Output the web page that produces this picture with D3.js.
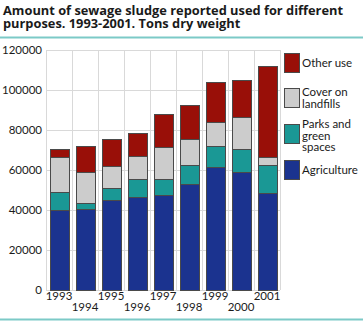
<!DOCTYPE html>
<html>
<head>
<meta charset="utf-8">
<script src="https://cdn.jsdelivr.net/npm/d3@7"></script>
<style>
  body { margin: 0; background: #fff; }
  text { font-family: Lato, "Open Sans", sans-serif; fill: #1a1a1a; }
</style>
</head>
<body>
<div id="chart-container"></div>
<script>
const years = ['1993', '1994', '1995', '1996', '1997', '1998', '1999', '2000', '2001']
const agriculture = [40000, 40300, 44800, 46500, 47500, 52800, 61500, 59200, 48300]
const parks = [8800, 3200, 6000, 8800, 7800, 9700, 10300, 11300, 14000]
const landfills = [17500, 15300, 11200, 11500, 16400, 13000, 12000, 16200, 4000]
const otherUse = [4200, 13000, 13700, 11700, 16100, 16800, 20000, 18100, 45700]
const yTicks = [0, 20000, 40000, 60000, 80000, 100000, 120000]

const seriesNames = ['Agriculture', 'Parks and green spaces', 'Cover on landfills', 'Other use']
const legendLines = {
  'Other use': ['Other use'],
  'Cover on landfills': ['Cover on', 'landfills'],
  'Parks and green spaces': ['Parks and', 'green', 'spaces'],
  'Agriculture': ['Agriculture']
}
const colors = ['#1b338f', '#1a9895', '#cccccc', '#990f08']

const w = 363, h = 321
const svg = d3.select('#chart-container')
  .append('svg')
  .attr('width', w)
  .attr('height', h)

// title
const title = svg.append('text')
  .style('font-family', '"Open Sans", sans-serif')
  .style('font-size', '13px')
  .style('font-weight', 'bold')
const t1 = title.append('tspan').attr('x', 3).attr('y', 14.5).text('Amount of sewage sludge reported used for different')
title.append('tspan').attr('x', 3).attr('y', 27.5).text('purposes. 1993-2001. Tons dry weight')
// fit the first line to roughly the width it has in the original
const len = t1.node().getComputedTextLength()
title.style('font-size', Math.min(13.5, 13 * 340 / len).toFixed(2) + 'px')

svg.append('line')
  .attr('x1', 0).attr('x2', w)
  .attr('y1', 37.5).attr('y2', 37.5)
  .attr('stroke', '#7ccac7').attr('stroke-width', 2)
svg.append('line')
  .attr('x1', 0).attr('x2', w)
  .attr('y1', 319.5).attr('y2', 319.5)
  .attr('stroke', '#7ccac7').attr('stroke-width', 2)

const table = years.map((y, i) => ({
  year: y,
  'Agriculture': agriculture[i],
  'Parks and green spaces': parks[i],
  'Cover on landfills': landfills[i],
  'Other use': otherUse[i]
}))
const stacked = d3.stack().keys(seriesNames)(table)

const xScale = d3.scaleBand()
  .domain(years)
  .range([46, 280])
  .paddingInner(0.27)
  .paddingOuter(0.135)

const yScale = d3.scaleLinear()
  .domain([0, 120000])
  .range([290, 50])

const step = xScale.step()

// grid
const grid = svg.append('g').attr('stroke', '#d9d9d9').attr('stroke-width', 1)
grid.selectAll('line.h')
  .data(yTicks)
  .enter()
  .append('line')
  .attr('x1', 46).attr('x2', 280)
  .attr('y1', d => Math.round(yScale(d)) + 0.5)
  .attr('y2', d => Math.round(yScale(d)) + 0.5)
grid.selectAll('line.v')
  .data(years.concat(['end']))
  .enter()
  .append('line')
  .attr('x1', (d, i) => Math.round(46 + i * step) + 0.5)
  .attr('x2', (d, i) => Math.round(46 + i * step) + 0.5)
  .attr('y1', 50).attr('y2', 290)

// bars
svg.selectAll('g.series')
  .data(stacked)
  .enter()
  .append('g')
  .attr('fill', (d, i) => colors[i])
  .selectAll('rect')
  .data(d => d)
  .enter()
  .append('rect')
  .attr('x', d => Math.round(xScale(d.data.year)) + 0.5)
  .attr('y', d => Math.round(yScale(d[1])) + 0.5)
  .attr('width', Math.round(xScale.bandwidth()))
  .attr('height', d => Math.round(yScale(d[0])) - Math.round(yScale(d[1])))
  .attr('stroke', '#4a4a4a')
  .attr('stroke-width', 1)

// y axis labels
svg.append('g')
  .selectAll('text')
  .data(yTicks)
  .enter()
  .append('text')
  .attr('x', 42)
  .attr('y', d => yScale(d) + 4)
  .attr('text-anchor', 'end')
  .style('font-size', '11.5px')
  .text(d => d)

// x axis labels, staggered
svg.append('g')
  .selectAll('text')
  .data(years)
  .enter()
  .append('text')
  .attr('x', d => xScale(d) + xScale.bandwidth() / 2)
  .attr('y', (d, i) => i % 2 ? 311 : 300)
  .attr('text-anchor', 'middle')
  .style('font-size', '11.5px')
  .text(d => d)

// legend
const legendOrder = ['Other use', 'Cover on landfills', 'Parks and green spaces', 'Agriculture']
const legendBoxY = [53, 88, 124, 160]
const legend = svg.append('g')
legendOrder.forEach((name, i) => {
  const ci = seriesNames.indexOf(name)
  legend.append('rect')
    .attr('x', 284.5).attr('y', legendBoxY[i] + 0.5)
    .attr('width', 15).attr('height', 19)
    .attr('fill', colors[ci])
    .attr('stroke', '#4a4a4a')
  const lines = legendLines[name]
  const t = legend.append('text').style('font-size', '11.5px')
  const firstY = lines.length === 1 ? legendBoxY[i] + 14 : (lines.length === 2 ? legendBoxY[i] + 8 : legendBoxY[i] + 4)
  lines.forEach((ln, j) => {
    t.append('tspan').attr('x', 302).attr('y', firstY + j * 11.5).text(ln)
  })
})
</script>
</body>
</html>
